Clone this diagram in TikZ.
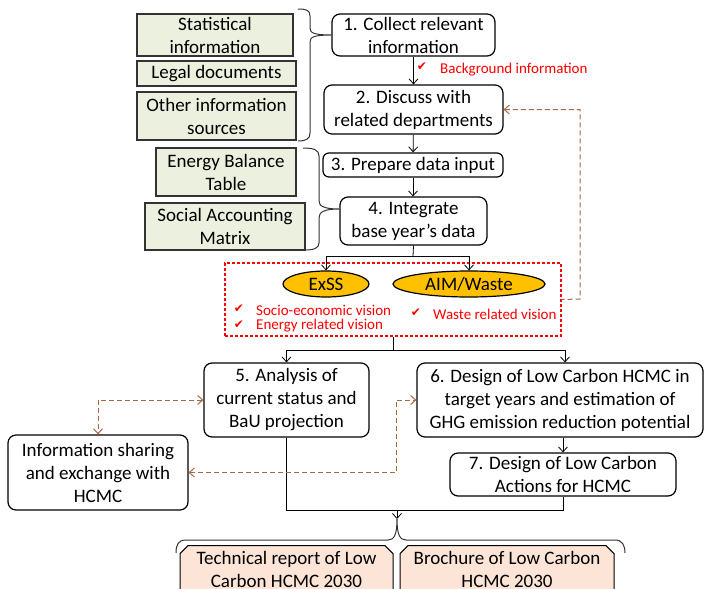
\documentclass[tikz,border=0pt]{standalone}
\usepackage{fontspec}
\setmainfont{Carlito}
\newfontfamily\dejavu{DejaVu Sans}
\usetikzlibrary{arrows.meta,shapes.geometric,shapes.misc}
\definecolor{greenfill}{HTML}{EBF1DE}
\definecolor{peach}{HTML}{FCE4D6}
\definecolor{gold}{HTML}{FFC000}
\definecolor{brownd}{HTML}{A86A45}
\begin{document}
\begin{tikzpicture}[x=1pt,y=-1pt,
  txt/.style={font=\fontsize{19}{23}\selectfont, align=center, inner sep=0pt},
  stepbox/.style={txt, draw, rounded corners=8pt, line width=1.2pt},
  srcbox/.style={txt, draw=black!80, fill=greenfill, line width=1.2pt},
  model/.style={ellipse, draw, fill=gold, line width=1.2pt, inner sep=0pt, font=\fontsize{19}{22}\selectfont},
  outbox/.style={txt, draw, fill=peach, chamfered rectangle, chamfered rectangle xsep=5pt, line width=1pt, anchor=north, inner ysep=2.5pt},
  redtxt/.style={text=red, font=\fontsize{15}{17}\selectfont, inner sep=0pt, anchor=west},
  chk/.style={text=red, font=\dejavu\fontsize{12}{13}\selectfont, inner sep=0pt},
  arr/.style={-{Straight Barb[length=5pt,width=9pt]}, line width=0.8pt},
  link/.style={line width=0.8pt},
  fb/.style={brownd, dash pattern=on 5pt off 3pt, line width=1pt},
  bibarr/.style={fb, {Straight Barb[length=5pt,width=9pt]}-{Straight Barb[length=5pt,width=9pt]}},
  brace/.style={line width=1pt, black!80}]
\useasboundingbox (0,0) rectangle (705,589);
\clip (0,0) rectangle (705,589);

% source boxes
\node[srcbox, minimum width=156pt, minimum height=42pt] (stat) at (215,35) {Statistical\\information};
\node[srcbox, minimum width=159pt, minimum height=25pt] (legal) at (216.5,73.5) {Legal documents};
\node[srcbox, minimum width=159pt, minimum height=48pt] (other) at (216.5,116) {Other information\\sources};
\node[srcbox, minimum width=140pt, minimum height=48pt] (ebt) at (226,172) {Energy Balance\\Table};
\node[srcbox, minimum width=160pt, minimum height=47pt] (sam) at (225,226.5) {Social Accounting\\Matrix};

% steps
\node[stepbox, minimum width=163pt, minimum height=42pt] (s1) at (413.5,35) {1. Collect relevant\\information};
\node[stepbox, minimum width=179pt, minimum height=49pt] (s2) at (413.5,109.5) {2. Discuss with\\related departments};
\node[stepbox, minimum width=180pt, minimum height=24pt, rounded corners=6pt] (s3) at (413,165) {3. Prepare data input};
\node[stepbox, minimum width=147pt, minimum height=48pt] (s4) at (413.5,221) {4. Integrate\\base year’s data};
\node[stepbox, minimum width=165pt, minimum height=74pt] (s5) at (286.5,400) {5. Analysis of\\current status and\\BaU projection};
\node[stepbox, minimum width=286pt, minimum height=74pt] (s6) at (560,400) {6. Design of Low Carbon HCMC in\\target years and estimation of\\GHG emission reduction potential};
\node[stepbox, minimum width=226pt, minimum height=43pt] (s7) at (563,474.5) {7. Design of Low Carbon\\Actions for HCMC};
\node[stepbox, minimum width=180pt, minimum height=75pt] (info) at (98,472.5) {Information sharing\\and exchange with\\HCMC};

% models
\node[draw=red, color=red, dash pattern=on 3pt off 2pt, line width=1.2pt, minimum width=336pt, minimum height=73pt, inner sep=0pt] (rbox) at (393,299.5) {};
\node[model, minimum width=86pt, minimum height=26pt] (ex) at (326,284) {ExSS};
\node[model, minimum width=152pt, minimum height=26pt] (aim) at (469,284) {AIM/Waste};
\node[chk] (c1) at (239,309) {✔};
\node[redtxt] (t1) at (256,310) {Socio-economic vision};
\node[chk] (c2) at (239,325) {✔};
\node[redtxt] (t2) at (256,326) {Energy related vision};
\node[chk] (c3) at (416,313) {✔};
\node[redtxt] (t3) at (433,314) {Waste related vision};

% outputs
\node[outbox, minimum width=213pt] (tech) at (286.5,545) {Technical report of Low\\Carbon HCMC 2030\\[4pt]};
\node[outbox, minimum width=214pt] (broch) at (507,545) {Brochure of Low Carbon\\HCMC 2030\\[4pt]};

% main flow
\draw[arr] (s1) -- (s2);
\node[chk] (c0) at (422,67) {✔};
\node[redtxt] (bg) at (440,70) {Background information};
\draw[arr] (s2) -- (s3);
\draw[arr] (s3.south) -- (s3.south |- s4.north);
\coordinate (j1) at (413,256);
\draw[link] (s4.south) -- (j1);
\draw[arr] (j1) -| (ex.north);
\draw[arr] (j1) -| (aim.north);
\coordinate (j2) at (393,350);
\draw[link] (rbox.south) -- (j2);
\draw[arr] (j2) -| (s5.north);
\draw[arr] (j2) -| ([xshift=5pt]s6.north);
\draw[arr] (s7.north |- s6.south) -- (s7.north);
\draw[link] (s5.south) |- (s7.south |- 0,510) -- (s7.south);
\coordinate (m) at (397,510);
\coordinate (btip) at (397,519);
\draw[arr] (m) -- (btip);

% feedback (dashed)
\draw[fb, {Straight Barb[length=5pt,width=9pt]}-] (s2.east) -| (580,299) -- (rbox.east);
\draw[bibarr] (s5.west) -| (info.north);
\draw[bibarr] (info.east) -| (396,400) -- (s6.west);

% braces
\draw[brace] (298,9) .. controls (306,9) and (310,10) .. (310,16) -- (310,28)
  .. controls (310,33) and (314,35) .. (s1.west)
  .. controls (314,35) and (310,37) .. (310,42) -- (310,133)
  .. controls (310,139) and (306,141) .. (298,141);
\draw[brace] (303,148) .. controls (314,148) and (319,150) .. (319,156) -- (319,201)
  .. controls (319,206) and (324,209) .. (339,209)
  .. controls (324,209) and (319,212) .. (319,218) -- (319,243)
  .. controls (319,248) and (314,250) .. (305,250);
\draw[brace] (176,553) .. controls (176,545) and (178,540) .. (186,540) -- (388,540)
  .. controls (394,540) and (397,535) .. (btip)
  .. controls (397,535) and (400,540) .. (406,540) -- (615,540)
  .. controls (622,540) and (625,545) .. (625,553);
\end{tikzpicture}
\end{document}
